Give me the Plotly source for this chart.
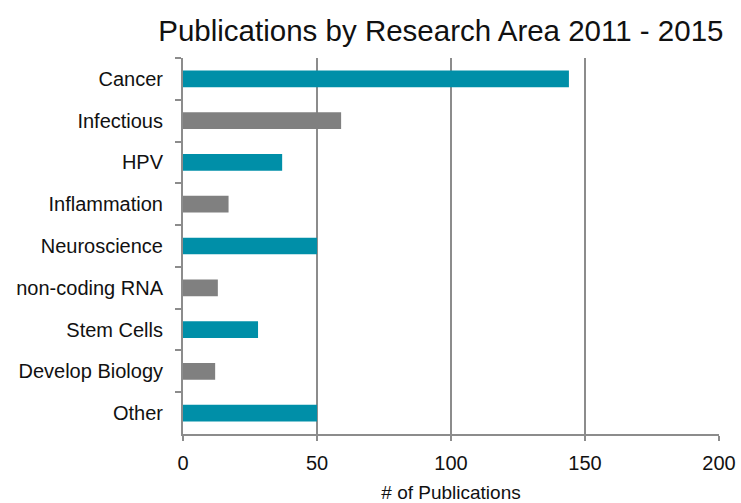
import plotly.graph_objects as go

categories = ["Cancer", "Infectious", "HPV", "Inflammation", "Neuroscience",
              "non-coding RNA", "Stem Cells", "Develop Biology", "Other"]
publications = [144, 59, 37, 17, 50, 13, 28, 12, 50]
bar_colors = ["#008FA8", "#808080", "#008FA8", "#808080", "#008FA8",
              "#808080", "#008FA8", "#808080", "#008FA8"]
x_ticks = [0, 50, 100, 150, 200]

font = "Liberation Sans"
fig = go.Figure(go.Bar(
    x=publications, y=categories, orientation="h",
    marker=dict(color=bar_colors, line=dict(width=0)),
    width=0.4,
))
fig.update_layout(
    width=741, height=503,
    paper_bgcolor="white", plot_bgcolor="white",
    margin=dict(l=183, r=22, t=58, b=69, autoexpand=False),
    title=dict(text="Publications by Research Area 2011 - 2015",
               x=0.595, xanchor="center", y=0.94, yanchor="middle",
               font=dict(family=font, size=29.5, color="#111")),
    font=dict(family=font, color="#111"),
    showlegend=False,
)
fig.update_xaxes(
    range=[0, 200], tickvals=x_ticks, showgrid=True, gridcolor="#8c8c8c", gridwidth=2,
    showline=True, linecolor="#8c8c8c", linewidth=2,
    ticks="outside", ticklen=5, tickcolor="#8c8c8c", tickwidth=2,
    tickfont=dict(size=20, family=font, color="#111"),
    ticklabelstandoff=5,
    title=dict(text="# of Publications", font=dict(size=19, family=font, color="#111"), standoff=14),
    zeroline=False, automargin=False,
)
fig.update_yaxes(
    categoryorder="array", categoryarray=categories, autorange="reversed",
    showline=True, linecolor="#8c8c8c", linewidth=2,
    ticks="outside", ticklen=6, tickcolor="#8c8c8c", tickwidth=2, tickson="boundaries",
    tickfont=dict(size=20, family=font, color="#111"),
    ticklabelstandoff=14,
    showgrid=False, automargin=False,
)
fig.write_html("out.html", config={"displayModeBar": False},
               post_script="document.body.style.margin='0';")
